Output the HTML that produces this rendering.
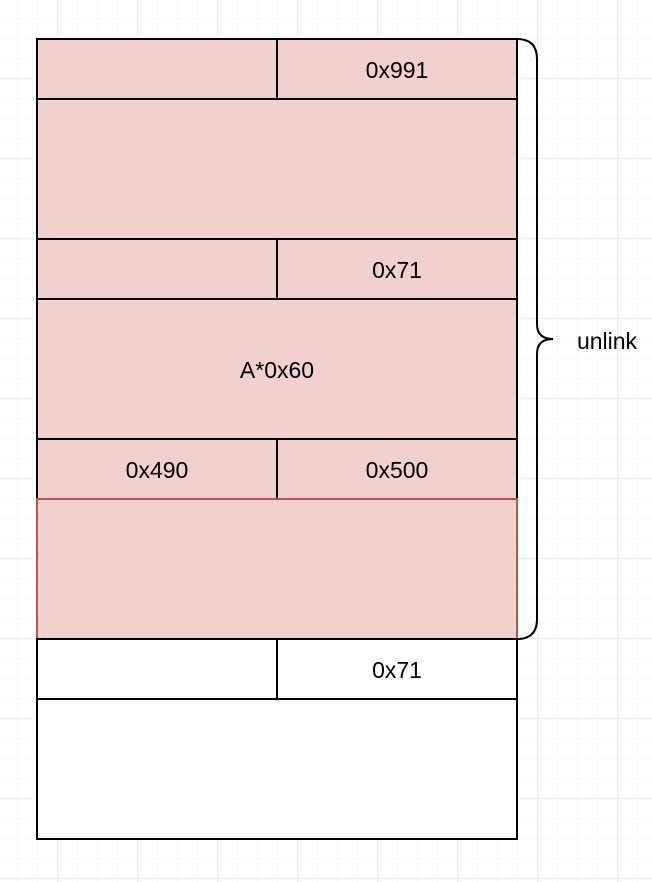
<!DOCTYPE html>
<html><head><style>
html,body{margin:0;padding:0;background:#fff;}
svg{display:block;}
text{font-family:"Liberation Sans",sans-serif;font-size:23px;fill:#000;text-anchor:middle;dominant-baseline:central;}
</style></head><body>
<svg width="652" height="882" viewBox="0 0 652 882" xmlns="http://www.w3.org/2000/svg">
<defs>
<pattern id="minor" x="17" y="18" width="20" height="20" patternUnits="userSpaceOnUse">
<path d="M0 0H20M0 0V20" fill="none" stroke="#efefef" stroke-width="1"/>
</pattern>
<pattern id="major" x="57" y="78" width="80" height="80" patternUnits="userSpaceOnUse">
<path d="M0 0H80M0 0V80" fill="none" stroke="#d8d8d8" stroke-width="1"/>
</pattern>
</defs>
<rect width="652" height="882" fill="url(#minor)"/>
<rect width="652" height="882" fill="url(#major)"/>
<g stroke="#000" stroke-width="2" fill="#f2d0cf">
<rect x="37" y="39" width="240" height="60"/>
<rect x="277" y="39" width="240" height="60"/>
<rect x="37" y="99" width="480" height="140"/>
<rect x="37" y="239" width="240" height="60"/>
<rect x="277" y="239" width="240" height="60"/>
<rect x="37" y="299" width="480" height="140"/>
<rect x="37" y="439" width="240" height="60"/>
<rect x="277" y="439" width="240" height="60"/>
<rect x="37" y="499" width="480" height="140" stroke="#b85450"/>
<rect x="37" y="639" width="240" height="60" fill="#fff"/>
<rect x="277" y="639" width="240" height="60" fill="#fff"/>
<rect x="37" y="699" width="480" height="140" fill="#fff"/>
</g>
<path d="M517 39 Q537 39 537 59 V324 Q537 339 553 339 Q537 339 537 354 V619 Q537 639 517 639" fill="none" stroke="#000" stroke-width="2"/>
<text x="397" y="70">0x991</text>
<text x="397" y="270">0x71</text>
<text x="277" y="370">A*0x60</text>
<text x="157" y="470">0x490</text>
<text x="397" y="470">0x500</text>
<text x="397" y="670">0x71</text>
<text x="607" y="341">unlink</text>
</svg>
</body></html>
